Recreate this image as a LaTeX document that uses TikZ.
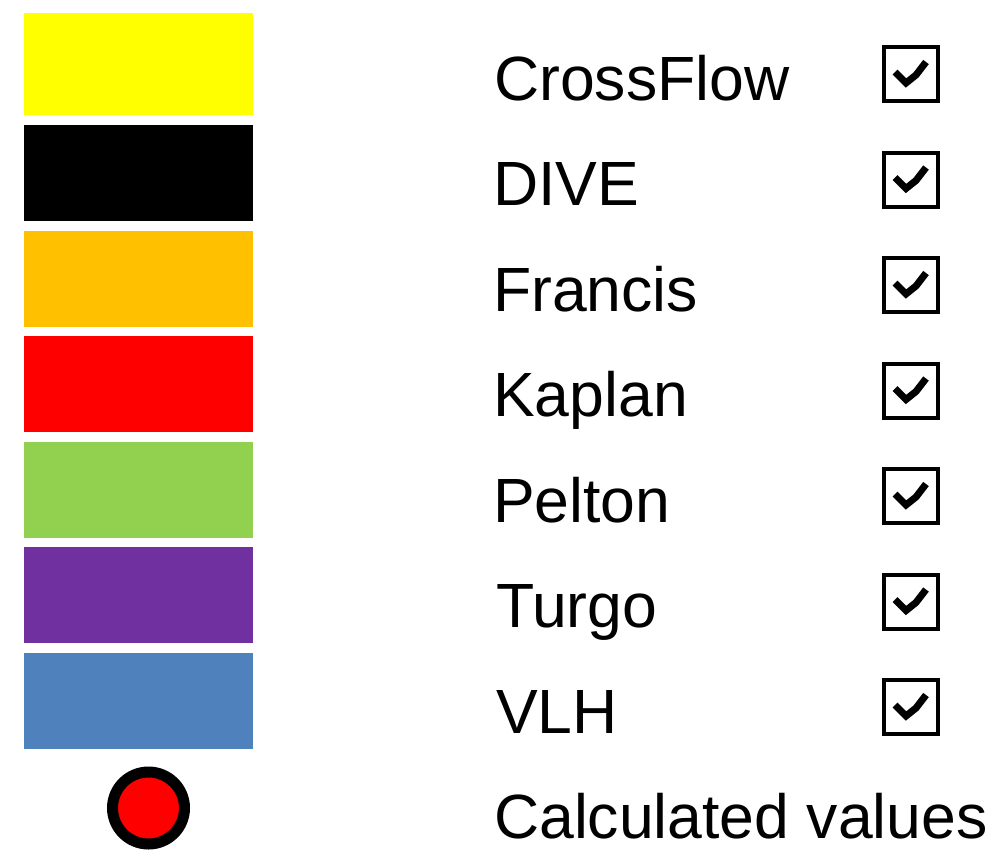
\documentclass[tikz,border=0pt]{standalone}
\usepackage{fontspec}
\setmainfont{Liberation Sans}
\usetikzlibrary{shapes}
\definecolor{crossflow}{HTML}{FFFF00}
\definecolor{francis}{HTML}{FFC000}
\definecolor{kaplan}{HTML}{FF0000}
\definecolor{pelton}{HTML}{92D050}
\definecolor{turgo}{HTML}{7030A0}
\definecolor{vlh}{HTML}{4F81BD}
\tikzstyle{swatch} = [rectangle, minimum width=229pt, minimum height=96pt, inner sep=0pt, node distance=105.5pt]
\tikzstyle{tickbox} = [rectangle, draw, line width=4pt, minimum size=54pt, inner sep=0pt, node distance=105.5pt,
	path picture={\draw[line width=7pt, line join=miter]
		([shift={(-16pt,2pt)}]path picture bounding box.center) --
		([shift={(-5pt,-9pt)}]path picture bounding box.center) --
		([shift={(5pt,-1pt)}]path picture bounding box.center) --
		([shift={(15pt,12pt)}]path picture bounding box.center);}]
\tikzstyle{turbine} = [anchor=base west, inner sep=0pt, font=\fontsize{62.5}{62.5}\selectfont]

\begin{document}
\begin{tikzpicture}[x=1pt, y=-1pt]
	\useasboundingbox (0,0) rectangle (996,865);
	
	\node [swatch, fill=black] (dive) at (138.5,173) {};
	\node [swatch, above of = dive, fill=crossflow, minimum height=102pt, node distance=109pt] (cf) {};
	\node [swatch, below of = dive, fill=francis] (fr) {};
	\node [swatch, below of = fr, fill=kaplan] (ka) {};
	\node [swatch, below of = ka, fill=pelton] (pe) {};
	\node [swatch, below of = pe, fill=turgo] (tu) {};
	\node [swatch, below of = tu, fill=vlh] (vl) {};
	\node [circle, draw, line width=11pt, fill=kaplan, minimum size=72pt, inner sep=0pt, below of = vl, node distance=107.5pt, xshift=10pt] (calc) {};
	
	\node [turbine] (cft) at (494,100) {CrossFlow};
	\node [turbine] (divet) at (493,205.5) {DIVE};
	\node [turbine] (frt) at (493,311) {Francis};
	\node [turbine] (kat) at (493,416.5) {Kaplan};
	\node [turbine] (pet) at (493,522) {Pelton};
	\node [turbine] (tut) at (496,627.5) {Turgo};
	\node [turbine] (vlt) at (496,733) {VLH};
	\node [turbine] (calct) at (494,838.5) {Calculated values};
	
	\node [tickbox] (cfb) at (911,74) {};
	\node [tickbox, below of = cfb] (diveb) {};
	\node [tickbox, below of = diveb] (frb) {};
	\node [tickbox, below of = frb] (kab) {};
	\node [tickbox, below of = kab] (peb) {};
	\node [tickbox, below of = peb] (tub) {};
	\node [tickbox, below of = tub] (vlb) {};
\end{tikzpicture}
\end{document}
